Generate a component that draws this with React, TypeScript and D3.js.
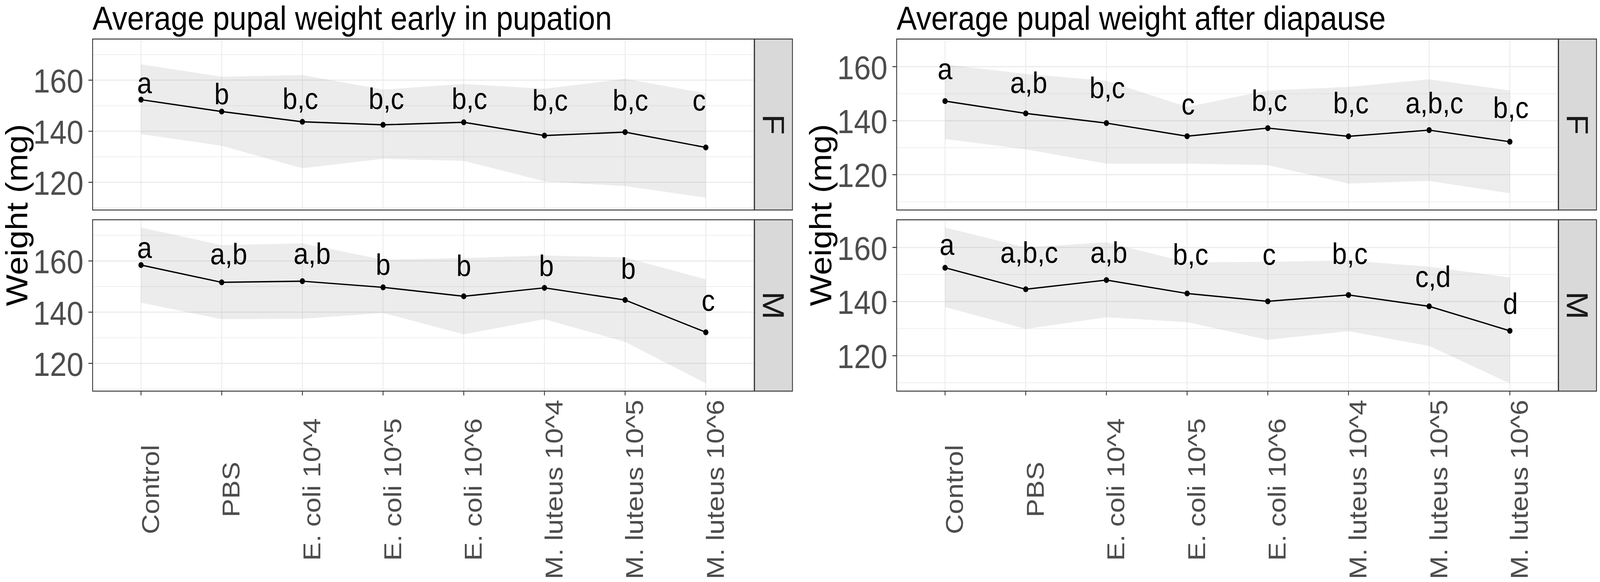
import React, { useEffect } from "react";
import * as d3 from "d3";

// ---------- data ----------
const categories = [
  "Control",
  "PBS",
  "E. coli 10^4",
  "E. coli 10^5",
  "E. coli 10^6",
  "M. luteus 10^4",
  "M. luteus 10^5",
  "M. luteus 10^6",
];
const chartTitles = [
  "Average pupal weight early in pupation",
  "Average pupal weight after diapause",
];
const sexes = ["F", "M"];
const yAxisTitle = "Weight (mg)";
const yMajorTicks = [120, 140, 160];
const yMinorTicks = [110, 130, 150, 170];

// early in pupation – F
const earlyFMean = [152.35, 147.7, 143.7, 142.5, 143.5, 138.3, 139.65, 133.65];
const earlyFUpper = [166.2, 161.3, 162.0, 156.3, 158.5, 156.6, 160.5, 154.9];
const earlyFLower = [138.9, 134.3, 125.5, 129.2, 128.4, 120.4, 118.5, 114.0];
const earlyFLetters = ["a", "b", "b,c", "b,c", "b,c", "b,c", "b,c", "c"];
const earlyFLabelY = [154.9, 150.6, 148.8, 148.8, 148.8, 148.2, 148.2, 148.2];
const earlyFLabelDx = [0.043, 0.0, -0.026, 0.04, 0.07, 0.07, 0.065, -0.082];

// early in pupation – M
const earlyMMean = [158.4, 151.65, 152.1, 149.7, 146.2, 149.5, 144.75, 132.15];
const earlyMUpper = [173.05, 166.2, 166.85, 160.5, 161.1, 162.15, 161.35, 152.8];
const earlyMLower = [143.7, 137.25, 137.4, 139.7, 131.35, 137.25, 128.4, 112.2];
const earlyMLetters = ["a", "a,b", "a,b", "b", "b", "b", "b", "c"];
const earlyMLabelY = [161.1, 158.7, 158.9, 154.65, 154.1, 154.1, 153.0, 140.5];
const earlyMLabelDx = [0.043, 0.087, 0.12, 0.0, 0.0, 0.024, 0.04, 0.03];

// after diapause – F
const diapFMean = [147.25, 142.7, 139.1, 134.25, 137.25, 134.2, 136.5, 132.2];
const diapFUpper = [160.85, 157.3, 154.8, 145.1, 151.2, 152.5, 155.3, 151.2];
const diapFLower = [133.2, 129.4, 124.1, 124.1, 123.55, 116.7, 117.7, 113.1];
const diapFLetters = ["a", "a,b", "b,c", "c", "b,c", "b,c", "a,b,c", "b,c"];
const diapFLabelY = [155.3, 150.3, 148.4, 142.3, 143.7, 142.7, 142.7, 141.1];
const diapFLabelDx = [0.0, 0.037, 0.01, 0.013, 0.02, 0.03, 0.065, 0.013];

// after diapause – M
const diapMMean = [152.5, 144.55, 147.95, 143.0, 140.1, 142.45, 138.25, 129.2];
const diapMUpper = [167.35, 160.0, 161.9, 154.5, 154.7, 155.2, 152.9, 148.9];
const diapMLower = [138.0, 129.9, 134.2, 132.4, 125.85, 129.1, 123.6, 109.8];
const diapMLetters = ["a", "a,b,c", "a,b", "b,c", "c", "b,c", "c,d", "d"];
const diapMLabelY = [157.2, 154.4, 154.4, 153.7, 153.7, 153.9, 145.4, 135.45];
const diapMLabelDx = [0.024, 0.043, 0.03, 0.043, 0.017, 0.017, 0.048, 0.007];

type Series = {
  mean: number[];
  upper: number[];
  lower: number[];
  letters: string[];
  labelY: number[];
  labelDx: number[];
};

const charts: { title: string; panels: Series[] }[] = [
  {
    title: chartTitles[0],
    panels: [
      { mean: earlyFMean, upper: earlyFUpper, lower: earlyFLower, letters: earlyFLetters, labelY: earlyFLabelY, labelDx: earlyFLabelDx },
      { mean: earlyMMean, upper: earlyMUpper, lower: earlyMLower, letters: earlyMLetters, labelY: earlyMLabelY, labelDx: earlyMLabelDx },
    ],
  },
  {
    title: chartTitles[1],
    panels: [
      { mean: diapFMean, upper: diapFUpper, lower: diapFLower, letters: diapFLetters, labelY: diapFLabelY, labelDx: diapFLabelDx },
      { mean: diapMMean, upper: diapMUpper, lower: diapMLower, letters: diapMLetters, labelY: diapMLabelY, labelDx: diapMLabelDx },
    ],
  },
];

// ---------- layout ----------
const W = 4561;
const H = 1491;
const FONT = "'Liberation Sans', Arial, Helvetica, sans-serif";
const chartOffsets = [0, 2292];
const panelLeft = 264;
const panelRight = 2150;
const stripLeft = 2151;
const stripRight = 2259;
const panelRows = [
  [100, 538],
  [563, 1002],
];
const gridCol = "#EBEBEB";
const borderCol = "#333333";
const tickTextCol = "#4D4D4D";

function Chart({ chart, offset }: { chart: { title: string; panels: Series[] }; offset: number }) {
  const x = d3.scalePoint<string>().domain(categories).range([panelLeft, panelRight]).padding(0.6);
  const step = x.step();

  const all: number[] = [];
  chart.panels.forEach((p) => all.push(...p.mean, ...p.upper, ...p.lower));
  const [lo, hi] = d3.extent(all) as [number, number];
  const pad = (hi - lo) * 0.05;
  const domain: [number, number] = [lo - pad, hi + pad];

  return (
    <g transform={`translate(${offset},0)`}>
      <text x={panelLeft} y={76} fontSize={86} fontFamily={FONT} fill="#000">
        {chart.title}
      </text>
      <text
        transform={`translate(78,${(panelRows[0][0] + panelRows[1][1]) / 2}) rotate(-90)`}
        textAnchor="middle"
        fontSize={86}
        fontFamily={FONT}
        fill="#000"
      >
        {yAxisTitle}
      </text>
      {chart.panels.map((p, pi) => {
        const [top, bottom] = panelRows[pi];
        const y = d3.scaleLinear().domain(domain).range([bottom, top]);
        const area = d3
          .area<number>()
          .x((_, i) => x(categories[i]) as number)
          .y0((_, i) => y(p.lower[i]))
          .y1((_, i) => y(p.upper[i]));
        const line = d3
          .line<number>()
          .x((_, i) => x(categories[i]) as number)
          .y((d) => y(d));
        return (
          <g key={pi}>
            <rect x={panelLeft} y={top} width={panelRight - panelLeft} height={bottom - top} fill="#fff" />
            {yMinorTicks.map((t) => (
              <line key={"mn" + t} x1={panelLeft} x2={panelRight} y1={y(t)} y2={y(t)} stroke={gridCol} strokeWidth={1.6} />
            ))}
            {yMajorTicks.map((t) => (
              <line key={"mj" + t} x1={panelLeft} x2={panelRight} y1={y(t)} y2={y(t)} stroke={gridCol} strokeWidth={3} />
            ))}
            {categories.map((c) => (
              <line key={"v" + c} x1={x(c)} x2={x(c)} y1={top} y2={bottom} stroke={gridCol} strokeWidth={2.4} />
            ))}
            <path d={area(p.mean) || ""} fill="#999999" fillOpacity={0.19} />
            <path d={line(p.mean) || ""} fill="none" stroke="#000" strokeWidth={3.4} />
            {p.mean.map((v, i) => (
              <circle key={"pt" + i} cx={x(categories[i])} cy={y(v)} r={7.5} fill="#000" />
            ))}
            {p.letters.map((l, i) => (
              <text
                key={"lt" + i}
                x={(x(categories[i]) as number) + p.labelDx[i] * step}
                y={y(p.labelY[i])}
                textAnchor="middle"
                fontSize={76}
                fontFamily={FONT}
                fill="#000"
              >
                {l}
              </text>
            ))}
            <rect
              x={panelLeft}
              y={top}
              width={panelRight - panelLeft}
              height={bottom - top}
              fill="none"
              stroke={borderCol}
              strokeWidth={2.4}
            />
            {yMajorTicks.map((t) => (
              <g key={"yt" + t}>
                <line x1={252} x2={panelLeft} y1={y(t)} y2={y(t)} stroke={borderCol} strokeWidth={2.4} />
                <text
                  x={238}
                  y={y(t)}
                  dy="0.37em"
                  textAnchor="end"
                  fontSize={86}
                  fontFamily={FONT}
                  fill={tickTextCol}
                >
                  {t}
                </text>
              </g>
            ))}
            <rect
              x={stripLeft}
              y={top}
              width={stripRight - stripLeft}
              height={bottom - top}
              fill="#D9D9D9"
              stroke={borderCol}
              strokeWidth={2.4}
            />
            <text
              transform={`translate(${(stripLeft + stripRight) / 2},${(top + bottom) / 2}) rotate(90)`}
              dy="0.358em"
              textAnchor="middle"
              fontSize={86}
              fontFamily={FONT}
              fill="#1A1A1A"
            >
              {sexes[pi]}
            </text>
          </g>
        );
      })}
      {categories.map((c) => (
        <g key={"xt" + c}>
          <line x1={x(c)} x2={x(c)} y1={panelRows[1][1]} y2={panelRows[1][1] + 11} stroke={borderCol} strokeWidth={2.4} />
          <text
            transform={`translate(${x(c)},1254) rotate(-90)`}
            dy="0.72em"
            textAnchor="middle"
            fontSize={71}
            fontFamily={FONT}
            fill={tickTextCol}
          >
            {c}
          </text>
        </g>
      ))}
    </g>
  );
}

export default function App() {
  useEffect(() => {
    document.body.style.margin = "0";
    document.body.style.overflow = "hidden";
  }, []);
  return (
    <svg
      viewBox={`0 0 ${W} ${H}`}
      preserveAspectRatio="none"
      style={{ position: "fixed", left: 0, top: 0, width: "100vw", height: "100vh", background: "#fff", display: "block" }}
    >
      <rect x={0} y={0} width={W} height={H} fill="#fff" />
      {charts.map((ch, i) => (
        <Chart key={i} chart={ch} offset={chartOffsets[i]} />
      ))}
    </svg>
  );
}
